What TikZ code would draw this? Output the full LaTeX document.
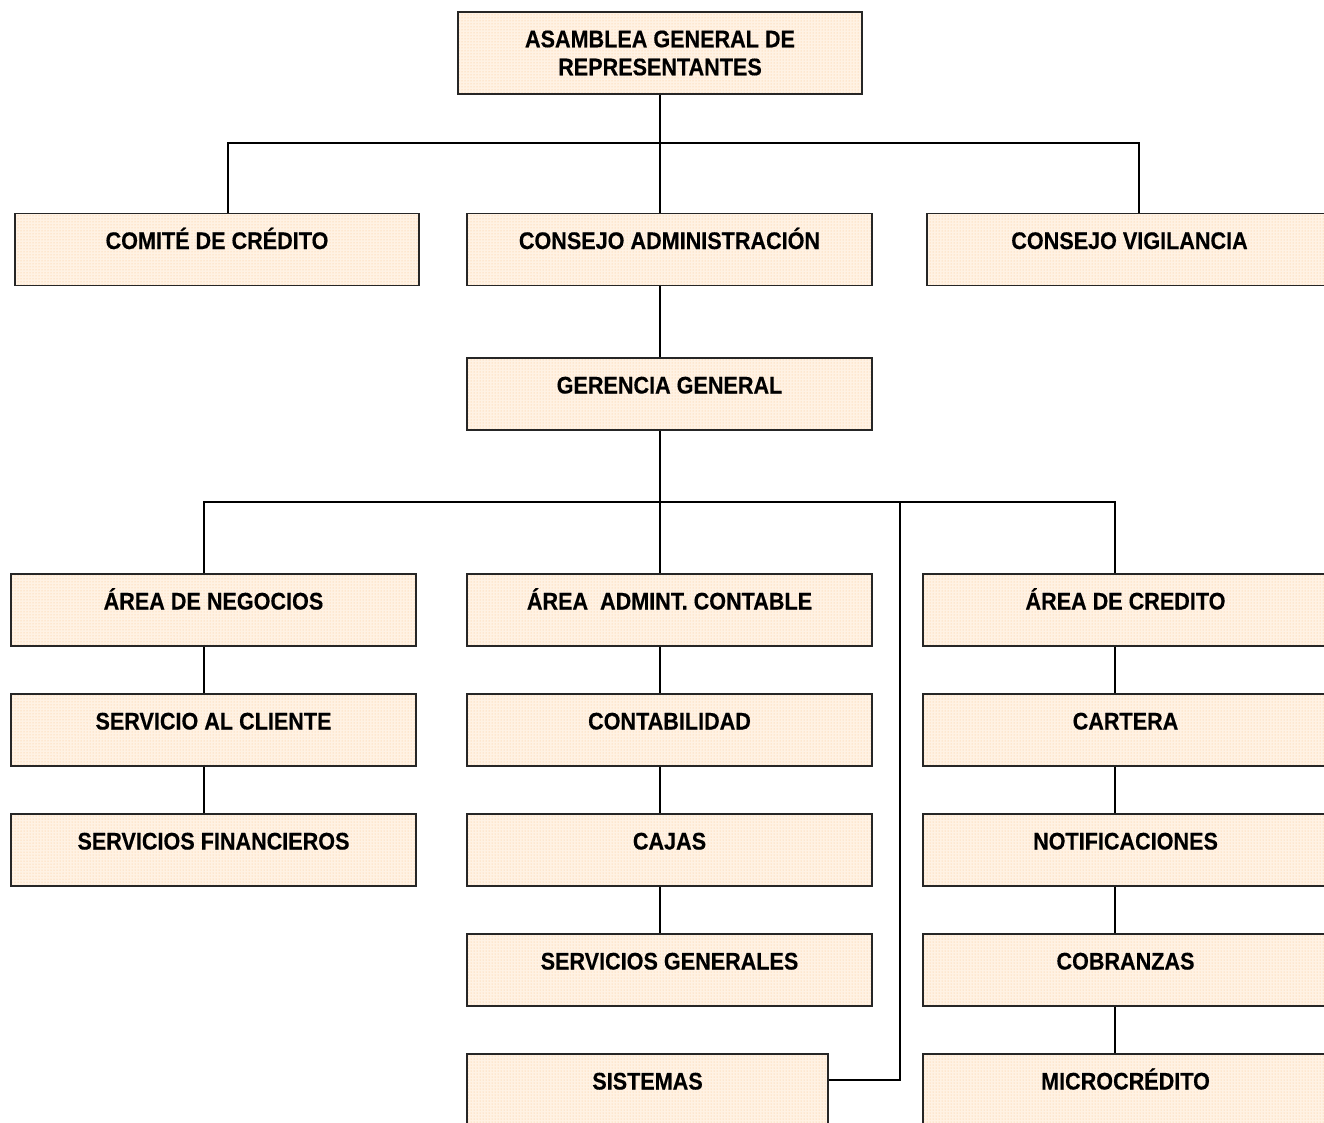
\documentclass[tikz,border=0pt]{standalone}
\usepackage{fontspec}
\setmainfont{Liberation Sans}[FakeStretch=0.9,FakeBold=0.4]
\usetikzlibrary{positioning,patterns}
\definecolor{peachbg}{RGB}{255,242,228}
\definecolor{peachdot}{RGB}{250,195,140}

\begin{document}
\begin{tikzpicture}[x=1pt,y=-1pt,line width=1.6pt,node distance=120pt]
\tikzstyle{unit}=[draw=black!85,preaction={fill=peachbg},pattern=dots,pattern color=peachdot,
  minimum width=405pt,minimum height=72pt,inner sep=0pt,
  font=\fontsize{24}{28}\selectfont\bfseries,text height=17pt,text depth=18pt]
\useasboundingbox (0,0) rectangle (1324,1122);
\node[unit,minimum width=404pt,minimum height=82pt,align=center,text height=,text depth=] (AG) at (660,53) {ASAMBLEA GENERAL DE\\REPRESENTANTES};
\node[unit,minimum width=404pt] (CC) at (217,249.5) {COMITÉ DE CRÉDITO};
\node[unit] (CA) at (669.5,249.5) {CONSEJO ADMINISTRACIÓN};
\node[unit] (CV) at (1129.5,249.5) {CONSEJO VIGILANCIA};
\node[unit] (GG) at (669.5,394) {GERENCIA GENERAL};
% areas
\node[unit] (AN) at (213.5,610) {ÁREA DE NEGOCIOS};
\node[unit] (SC) [below of=AN] {SERVICIO AL CLIENTE};
\node[unit] (SF) [below of=SC] {SERVICIOS FINANCIEROS};
\node[unit] (AC) at (669.5,610) {ÁREA\ \ ADMINT. CONTABLE};
\node[unit] (CO) [below of=AC] {CONTABILIDAD};
\node[unit] (CJ) [below of=CO] {CAJAS};
\node[unit] (SG) [below of=CJ] {SERVICIOS GENERALES};
\node[unit,minimum width=361pt] (SI) at (647.5,1090) {SISTEMAS};
\node[unit] (AR) at (1125.5,610) {ÁREA DE CREDITO};
\node[unit] (CT) [below of=AR] {CARTERA};
\node[unit] (NO) [below of=CT] {NOTIFICACIONES};
\node[unit] (CB) [below of=NO] {COBRANZAS};
\node[unit] (MC) [below of=CB] {MICROCRÉDITO};
% connectors
\coordinate (b1) at (660,143);
\coordinate (b2) at (660,502);
\draw (AG.south) -- (AG.south |- CA.north);
\draw ([xshift=11pt]CC.north) |- (b1) -| ([xshift=9.5pt]CV.north);
\draw ([xshift=-9.5pt]CA.south) -- ([xshift=-9.5pt]GG.north);
\draw ([xshift=-9.5pt]GG.south) -- ([xshift=-9.5pt]AC.north);
\draw ([xshift=-9.5pt]AN.north) |- (b2) -| ([xshift=-10.5pt]AR.north);
\draw (b2) -| (900,1080) -- ([yshift=10pt]SI.east);
\draw ([xshift=-9.5pt]AN.south) -- ([xshift=-9.5pt]SC.north);
\draw ([xshift=-9.5pt]SC.south) -- ([xshift=-9.5pt]SF.north);
\draw ([xshift=-9.5pt]AC.south) -- ([xshift=-9.5pt]CO.north);
\draw ([xshift=-9.5pt]CO.south) -- ([xshift=-9.5pt]CJ.north);
\draw ([xshift=-9.5pt]CJ.south) -- ([xshift=-9.5pt]SG.north);
\draw ([xshift=-10.5pt]AR.south) -- ([xshift=-10.5pt]CT.north);
\draw ([xshift=-10.5pt]CT.south) -- ([xshift=-10.5pt]NO.north);
\draw ([xshift=-10.5pt]NO.south) -- ([xshift=-10.5pt]CB.north);
\draw ([xshift=-10.5pt]CB.south) -- ([xshift=-10.5pt]MC.north);
\end{tikzpicture}
\end{document}
